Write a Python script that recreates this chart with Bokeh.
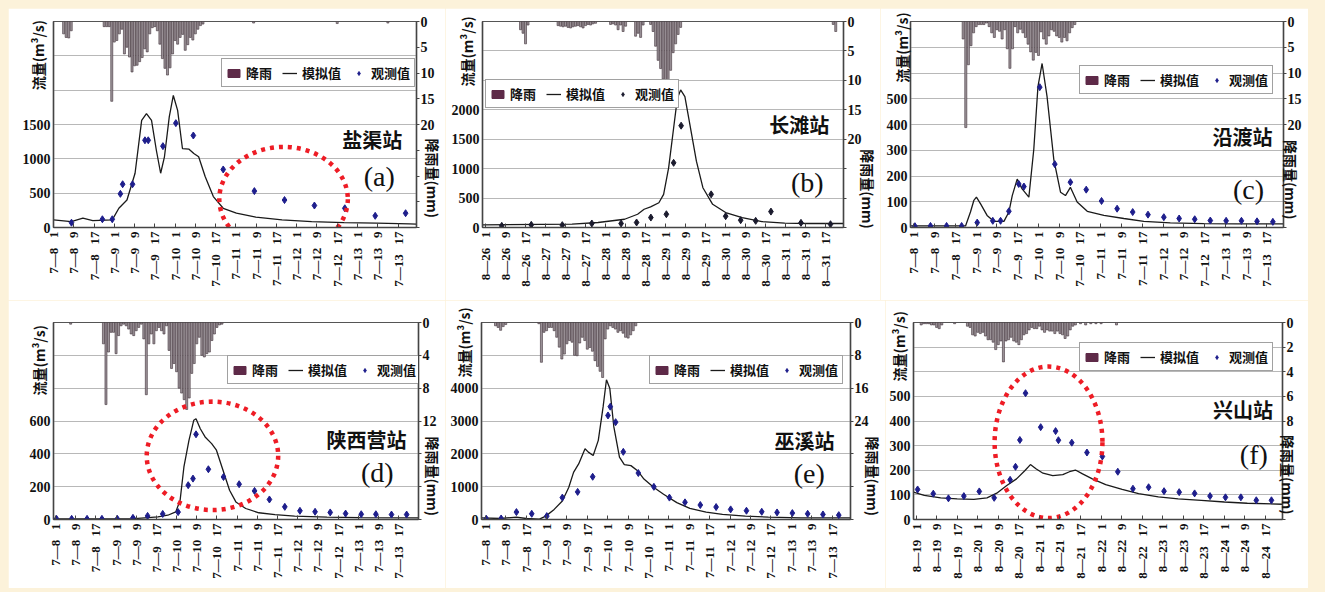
import math
from bokeh.plotting import figure
from bokeh.models import Range1d, LinearAxis, FixedTicker, Legend, LegendItem, Label, ColumnDataSource
from bokeh.layouts import row, column
from bokeh.embed import file_html
from bokeh.resources import INLINE

# ---------------- tick labels (x = hours since first tick) ----------------
tick_hours = [0, 8, 16, 24, 32, 40, 48, 56, 64, 72, 80, 88, 96, 104, 112, 120, 128, 136]
jul_ticks = ["7—8 1", "7—8 9", "7—8 17", "7—9 1", "7—9 9", "7—9 17", "7—10 1", "7—10 9", "7—10 17",
             "7—11 1", "7—11 9", "7—11 17", "7—12 1", "7—12 9", "7—12 17", "7—13 1", "7—13 9", "7—13 17"]
aug26_ticks = ["8—26 1", "8—26 9", "8—26 17", "8—27 1", "8—27 9", "8—27 17", "8—28 1", "8—28 9", "8—28 17",
               "8—29 1", "8—29 9", "8—29 17", "8—30 1", "8—30 9", "8—30 17", "8—31 1", "8—31 9", "8—31 17"]
aug19_ticks = ["8—19 1", "8—19 9", "8—19 17", "8—20 1", "8—20 9", "8—20 17", "8—21 1", "8—21 9", "8—21 17",
               "8—22 1", "8—22 9", "8—22 17", "8—23 1", "8—23 9", "8—23 17", "8—24 1", "8—24 9", "8—24 17"]

# ---------------- (a) 盐渠站 ----------------
a_sim_t = [0, 7, 11.6, 15.5, 23.2, 25.8, 29, 32.2, 34.8, 36.7, 38.7, 40.6, 42.3, 43.8, 45.7, 47.3, 49, 50.9,
           53.5, 55.4, 57.3, 59.9, 63.1, 67, 72.2, 79.9, 90.2, 101.9, 114.7, 127.6, 140.5, 143.3]
a_sim_q = [111, 87, 135, 100, 111, 280, 400, 790, 1560, 1657, 1560, 1125, 790, 1030, 1610, 1923, 1705, 1150,
           1140, 1077, 1030, 740, 450, 280, 208, 150, 111, 87, 72, 63, 53, 50]
a_obs_t = [7.1, 19.3, 23.2, 26.4, 27.3, 31.2, 36.1, 37.4, 43.2, 48.3, 55.2, 67, 79.3, 91.2, 103, 115, 127, 139]
a_obs_q = [70, 120, 120, 490, 630, 630, 1270, 1270, 1185, 1520, 1340, 845, 530, 400, 320, 280, 170, 208]
a_rain_t = [4, 5, 6, 7, 20, 21, 22, 23, 24, 25, 26, 27, 28, 29, 30, 31, 32, 33, 34, 35, 36, 37, 38, 39, 40,
            41, 42, 43, 44, 45, 46, 47, 48, 49, 50, 51, 52, 53, 54, 55, 56, 57, 58, 59, 79, 112, 132]
a_rain_mm = [2.4, 3.1, 3.2, 1.8, 1.0, 1.0, 1.0, 15.5, 4.0, 3.7, 2.4, 1.5, 6.3, 5.0, 6.9, 9.8, 8.6, 8.5, 7.8,
             7.0, 5.3, 5.9, 2.4, 1.2, 1.0, 1.8, 4.4, 7.2, 9.1, 10.4, 9.0, 6.3, 3.7, 4.4, 3.1, 2.5, 5.6, 4.5,
             3.1, 3.6, 2.4, 1.5, 0.8, 0.5, 0.3, 0.4, 0.3]

# ---------------- (b) 长滩站 ----------------
b_sim_t = [-1.2, 34.6, 45, 55.6, 60.8, 63.4, 66, 69.3, 71.2, 73.2, 75.2, 76.7, 78, 79.7, 81.7, 84.3, 86.9,
           90.8, 96, 102.6, 110.5, 119.6, 128.8, 143]
b_sim_q = [45, 56, 85, 140, 225, 310, 350, 420, 563, 1014, 1690, 2197, 2338, 2225, 1746, 1127, 676, 394, 254,
           169, 101, 73, 68, 68]
b_obs_t = [6.5, 18.3, 30.7, 42.5, 54.2, 60.4, 66.1, 72.3, 75.2, 78.2, 90.2, 96, 102, 108, 114.1, 126.1, 137.9]
b_obs_q = [28, 45, 40, 68, 68, 85, 169, 225, 1099, 1730, 563, 192, 124, 113, 270, 79, 56]
b_rain_t = [14, 15, 16, 17, 29, 30, 31, 32, 33, 34, 35, 36, 37, 38, 39, 40, 41, 42, 43, 44, 50, 51, 52, 53,
            54, 55, 56, 60, 61, 62, 63, 66, 67, 68, 69, 70, 71, 72, 73, 74, 75, 76, 77, 78, 139, 140]
b_rain_mm = [1.4, 2.0, 3.8, 0.6, 0.7, 0.8, 0.9, 0.8, 1.0, 1.1, 0.9, 0.8, 0.7, 0.9, 1.1, 0.7, 0.5, 0.6, 0.4,
             0.3, 0.5, 0.4, 0.6, 1.4, 0.6, 1.7, 0.8, 2.5, 2.0, 2.7, 0.6, 0.5, 1.7, 4.2, 6.6, 8.0, 9.8, 13.6,
             10.3, 8.3, 5.3, 3.8, 2.2, 1.0, 0.5, 1.7]

# ---------------- (c) 沿渡站 ----------------
c_sim_t = [-1.3, 19.9, 21.8, 23.1, 24.1, 25.7, 28.2, 30.8, 34.7, 36.6, 37.9, 39.8, 41.7, 44.3, 46.2, 47.8,
           49.4, 51.3, 53.9, 56.5, 58.4, 60.3, 62.9, 66.8, 73.2, 80.9, 88.6, 98.8, 111.7, 124.5, 142.4]
c_sim_q = [6, 6, 60, 105, 118, 92, 47, 24, 24, 60, 124, 188, 150, 118, 304, 547, 637, 509, 265, 137, 124,
           156, 99, 63, 47, 35, 24, 18, 15, 14, 14]
c_obs_t = [0.4, 6.4, 12.6, 18.4, 24.4, 30.4, 33.4, 36.6, 40.4, 42.4, 48.5, 54.3, 60.3, 66.4, 72.3, 78.3,
           84.3, 90.2, 96.3, 102.2, 108.2, 114.2, 120.3, 126.2, 132.2, 138.3]
c_obs_q = [5, 6, 6, 6, 19, 26, 26, 63, 169, 159, 545, 246, 176, 147, 103, 73, 60, 50, 40, 35, 32, 27, 26,
           26, 24, 22]
c_rain_t = [19, 20, 21, 22, 23, 24, 25, 26, 27, 28, 29, 30, 31, 32, 33, 34, 35, 36, 37, 38, 39, 40, 41, 42,
            43, 44, 45, 46, 47, 48, 49, 50, 51, 52, 53, 54, 55, 56, 57, 58, 59, 60, 61, 62]
c_rain_mm = [3.4, 20.6, 8.4, 4.7, 2.2, 1.0, 0.6, 0.6, 0.6, 0.3, 1.0, 2.2, 3.1, 1.6, 1.9, 3.4, 1.6, 5.3, 9.1,
             5.3, 1.0, 2.2, 1.5, 2.2, 3.1, 4.4, 5.9, 7.5, 6.0, 6.6, 2.0, 3.4, 4.4, 2.8, 1.6, 1.9, 2.8, 3.1,
             4.0, 3.1, 3.75, 2.2, 1.2, 0.6]

# ---------------- (d) 陕西营站 ----------------
d_sim_t = [-0.8, 30, 40.6, 44.5, 47.7, 49.4, 50.9, 52.9, 54.8, 55.7, 57.4, 59.3, 61.9, 63.8, 66.4, 69, 71.5,
           75.4, 80.6, 87, 94.8, 107.6, 120.5, 143.9]
d_sim_q = [4, 4, 16, 26, 47, 118, 320, 482, 604, 614, 553, 503, 462, 422, 300, 178, 107, 67, 41, 30, 20, 14,
           12, 10]
d_obs_t = [0.4, 6.4, 12.5, 18.4, 24.5, 30.7, 36.5, 42.5, 48.6, 52.6, 54.5, 55.7, 60.6, 66.6, 72.8, 78.9,
           84.8, 90.9, 96.9, 102.9, 108.9, 115, 121.2, 127, 133.2, 139.2]
d_obs_q = [4, 4, 4, 4, 4, 10, 22, 34, 45, 209, 249, 519, 306, 259, 215, 174, 122, 77, 53, 47, 43, 36, 32,
           32, 30, 30]
d_rain_t = [6, 19, 20, 21, 22, 23, 24, 25, 26, 27, 28, 29, 30, 31, 32, 33, 34, 35, 36, 37, 38, 39, 40, 41,
            42, 43, 44, 45, 46, 47, 48, 49, 50, 51, 52, 53, 54, 55, 56, 57, 58, 59, 60, 61, 62, 63, 64, 65, 66]
d_rain_mm = [0.2, 2.6, 10.0, 3.6, 1.2, 1.2, 3.8, 1.6, 0.4, 0.2, 0.4, 0.8, 1.4, 1.6, 1.0, 0.6, 0.2, 2.0, 8.8,
             2.6, 1.4, 2.6, 1.0, 0.6, 1.0, 1.4, 0.4, 3.4, 5.6, 5.0, 6.0, 8.0, 8.6, 9.4, 10.6, 9.2, 6.2, 5.0,
             2.6, 1.8, 4.0, 4.2, 3.8, 3.6, 2.2, 1.4, 0.6, 0.3, 0.2]

# ---------------- (e) 巫溪站 ----------------
e_sim_t = [-1.5, 5.8, 12.2, 16, 21.2, 23.7, 27, 30.2, 32.7, 34.6, 36.6, 39.1, 40.4, 42.3, 44.3, 46.2, 47.5,
           48.8, 50.4, 52.6, 54.5, 57.1, 59.7, 62.2, 66.1, 69.9, 75.1, 80.2, 86.6, 93, 102, 111, 123.8, 143.2]
e_sim_q = [51, 31, 72, 31, 10, 103, 308, 564, 974, 1436, 1692, 2154, 2051, 1949, 2410, 3436, 4256, 4000,
           2820, 1897, 1672, 1641, 1487, 1231, 974, 769, 513, 338, 226, 154, 103, 72, 51, 51]
e_obs_t = [0.4, 6.2, 12.2, 18.2, 24.1, 30.2, 36.2, 42.1, 48.1, 49, 51.1, 54.1, 60, 66.1, 72.2, 78.3, 84.3,
           90.5, 96.2, 102.4, 108.4, 114.4, 120.4, 126.4, 132.4, 138.6]
e_obs_q = [21, 31, 226, 174, 103, 667, 841, 1302, 3169, 3436, 2964, 2061, 1415, 995, 667, 523, 441, 379, 308,
           267, 236, 215, 195, 174, 154, 133]
e_rain_t = [4, 5, 6, 7, 8, 21, 22, 23, 24, 25, 26, 27, 28, 29, 30, 31, 32, 33, 34, 35, 36, 37, 38, 39, 40,
            41, 42, 43, 44, 45, 46, 47, 48, 49, 50, 51, 52, 53, 54, 55, 56, 57, 58, 59]
e_rain_mm = [0.8, 1.2, 1.9, 1.0, 0.5, 0.3, 9.7, 2.4, 2.0, 1.2, 1.2, 2.0, 3.6, 6.0, 8.9, 7.7, 5.2, 4.4, 4.8,
             8.0, 8.1, 5.0, 3.6, 4.4, 6.5, 6.1, 7.0, 9.3, 10.7, 11.9, 13.4, 4.0, 1.6, 0.8, 1.2, 1.6, 2.4, 2.0,
             2.6, 3.6, 3.8, 3.0, 2.0, 0.8]

# ---------------- (f) 兴山站 ----------------
f_sim_t = [-1, 3.2, 9.6, 16, 22.5, 27.6, 31.4, 35.3, 39.1, 42.3, 44.5, 46.8, 49.4, 53.2, 57.1, 59.7, 62,
           64.8, 68.6, 73.8, 80.2, 86.6, 94.3, 102, 111, 120, 128.9, 142.6]
f_sim_q = [111, 98, 88, 84, 82, 88, 107, 138, 165, 198, 223, 205, 188, 178, 182, 194, 201, 185, 165, 142,
           122, 105, 92, 84, 78, 71, 66, 62]
f_obs_t = [0.6, 6.7, 12.6, 18.6, 24.6, 30.4, 36.6, 38.7, 40.4, 42.6, 48.5, 54.3, 55.4, 60.6, 66.5, 72.5,
           78.5, 84.4, 90.5, 96.5, 102.4, 108.4, 114.4, 120.4, 126.4, 132.4, 138.3]
f_obs_q = [122, 105, 86, 95, 114, 88, 161, 214, 323, 513, 375, 359, 322, 312, 272, 256, 194, 125, 131, 115,
           111, 106, 95, 90, 90, 78, 78]
f_rain_t = [2, 3, 4, 5, 6, 7, 8, 9, 10, 15, 20, 21, 22, 23, 24, 25, 26, 27, 28, 29, 30, 31, 32, 33, 34, 35,
            36, 37, 38, 39, 40, 41, 42, 43, 44, 45, 46, 47, 48, 49, 50, 51, 52, 53, 54, 55, 56, 57, 58, 59,
            60, 61, 62, 64, 66, 68, 70, 72, 78]
f_rain_mm = [0.2, 0.1, 0.1, 0.1, 0.2, 0.2, 0.4, 0.5, 0.2, 0.1, 0.3, 0.4, 1.0, 1.1, 0.8, 0.9, 0.8, 1.1, 1.4,
             1.4, 1.6, 2.2, 1.8, 1.5, 3.2, 1.5, 1.4, 1.2, 1.5, 1.6, 1.8, 1.4, 1.0, 0.9, 0.6, 0.4, 0.5, 0.5,
             0.3, 0.6, 0.8, 0.6, 0.7, 0.7, 0.9, 0.7, 0.9, 1.0, 1.3, 1.1, 0.6, 0.3, 0.2, 0.1, 0.2, 0.1, 0.1,
             0.1, 0.2]

# ---------------- styling / layout ----------------
PAGE_BG = "#fcf2da"
BAR_FILL = "#9d959a"
BAR_LINE = "#3e2f38"
SWATCH = "#5e2a48"
OBS_COLOR = "#1e1e8c"
CJK = "Noto Sans CJK SC"
SERIF = "Liberation Serif"
NBSP3 = "\u00a0\u00a0\u00a0"
LEG_H = 26
LEFT_TITLE = "流量(m³/s)"
RIGHT_TITLE = "降雨量(mm)"


def padded(text, pad_px):
    # the axis title is centred on its axis; leading blank space shifts the visible
    # characters towards the top (left axis) or bottom (right axis), as in the reference
    n_id = int(pad_px // 14)
    rem = pad_px - 14 * n_id
    return "\u3000" * n_id + "\u00a0" * int(round(rem / 3.1)) + text


def make_panel(origin, size, borders, xr, left, right, xlabels, sim_t, sim_q, obs_t, obs_q, rain_t, rain_mm,
               name, tag, pos, obs_color=OBS_COLOR, ellipse=None, margin=(0, 0, 0, 0)):
    W, H = size
    bl, br, bt, bb = borders
    x0, x1 = xr
    ymax, ystep, ylab = left
    rmax, rstep, rlab = right
    fw = W - bl - br
    fh = H - bt - bb
    ox, oy = origin

    def dx(px):  # page px -> data x
        return x0 + (px - ox - bl) / fw * (x1 - x0)

    def dy(py):  # page px -> data y (left axis)
        return ymax * (bt + fh - (py - oy)) / fh

    p = figure(width=W, height=H, x_range=Range1d(x0, x1), y_range=Range1d(0, ymax),
               output_backend="svg", toolbar_location=None,
               min_border_left=bl, min_border_right=br, min_border_top=bt, min_border_bottom=bb,
               background_fill_color="white", border_fill_color="white",
               outline_line_color="#555555", outline_line_width=1.2, margin=margin)
    p.extra_y_ranges = {"rain": Range1d(rmax, 0)}

    # axes
    yt = list(range(0, ymax + 1, ystep))
    p.yaxis.ticker = FixedTicker(ticks=yt)
    p.yaxis.major_label_overrides = {t: (str(t) if t <= ylab else "") for t in yt}
    p.xaxis.ticker = FixedTicker(ticks=tick_hours)
    p.xaxis.major_label_overrides = {h: s.replace(" ", NBSP3) for h, s in zip(tick_hours, xlabels)}
    p.xaxis.major_label_orientation = math.pi / 2
    for ax in (p.xaxis, p.yaxis):
        ax.axis_line_color = "#444444"
        ax.axis_line_width = 1.5
        ax.major_tick_line_color = "#444444"
        ax.minor_tick_line_color = None
        ax.major_label_text_font = SERIF
        ax.major_label_text_font_style = "bold"
        ax.major_label_text_color = "#111111"
    p.xaxis.major_tick_in = 4
    p.xaxis.major_tick_out = 0
    p.xaxis.major_label_standoff = 4
    p.xaxis.major_label_text_font_size = "13px"
    p.yaxis.major_tick_in = 0
    p.yaxis.major_tick_out = 0
    p.yaxis.major_label_standoff = 3
    p.yaxis.major_label_text_font_size = "14px"

    # left axis title, placed over the empty upper part of the tick-label column
    w_tl = 7 * len(str(ylab))
    yax = p.yaxis[0]
    yax.axis_label = padded(LEFT_TITLE, pos["lpad"])
    yax.axis_label_text_font = CJK
    yax.axis_label_text_font_style = "bold"
    yax.axis_label_text_font_size = "14px"
    yax.axis_label_text_color = "#111111"
    yax.axis_label_standoff = int(round(pos.get("lstand", -0.5) - w_tl))

    rt = list(range(0, rmax + 1, rstep))
    ra = LinearAxis(y_range_name="rain", ticker=FixedTicker(ticks=rt),
                    major_label_overrides={t: (str(t) if t <= rlab else "") for t in rt},
                    axis_line_color="#444444", axis_line_width=1.5, major_tick_line_color="#444444",
                    major_tick_in=0, major_tick_out=3, minor_tick_line_color=None, major_label_standoff=1,
                    major_label_text_font=SERIF, major_label_text_font_style="bold",
                    major_label_text_font_size="14px", major_label_text_color="#111111",
                    axis_label=padded(RIGHT_TITLE, pos["rpad"]), axis_label_text_font=CJK,
                    axis_label_text_font_style="bold",
                    axis_label_text_font_size="14px", axis_label_text_color="#111111",
                    axis_label_standoff=pos.get("rstand", -17))
    p.add_layout(ra, "right")

    p.xgrid.grid_line_color = None
    p.ygrid.grid_line_color = "#b8b8b8"
    p.ygrid.grid_line_width = 1

    # rain bars (hanging from top)
    rsrc = ColumnDataSource(dict(t=rain_t, mm=rain_mm))
    p.vbar(x="t", bottom=0, top="mm", width=0.8, source=rsrc, y_range_name="rain",
           fill_color=BAR_FILL, line_color=BAR_LINE, line_width=0.6)
    # legend proxy (zero-height, outside the visible range)
    r_leg = p.vbar(x=[x0 - 50], bottom=[0], top=[0], width=1, y_range_name="rain",
                   fill_color=SWATCH, line_color=SWATCH)

    r_line = p.line(sim_t, sim_q, line_color="#1a1a1a", line_width=1.3)
    r_obs = p.scatter(obs_t, obs_q, marker="diamond", size=7, fill_color=obs_color, line_color=obs_color)

    if ellipse is not None:
        (cx, cy), (ew, eh) = ellipse
        p.ellipse(x=[dx(cx)], y=[dy(cy)], width=[ew / fw * (x1 - x0)], height=[eh / fh * ymax],
                  fill_alpha=0, line_color="#ee1c25", line_width=4.5, line_dash="4 5")

    # legend
    lx, ly = pos["legend"]
    leg = Legend(items=[LegendItem(label="降雨", renderers=[r_leg]),
                        LegendItem(label="模拟值", renderers=[r_line]),
                        LegendItem(label="观测值", renderers=[r_obs])],
                 orientation="horizontal",
                 location=(lx - ox - bl, (oy + bt + fh) - (ly + LEG_H)),
                 label_text_font=CJK, label_text_font_style="bold", label_text_font_size="13px",
                 label_text_color="#111111", glyph_width=15, glyph_height=10, label_standoff=5,
                 spacing=10, padding=4, margin=0, border_line_color="#444444", border_line_width=1.5,
                 background_fill_color="white", background_fill_alpha=1.0, label_height=16)
    p.add_layout(leg)

    # station name and tag
    nx, ny = pos["name"]
    p.add_layout(Label(x=dx(nx), y=dy(ny), text=name, text_align="center", text_baseline="middle",
                       text_font=CJK, text_font_style="bold", text_font_size="20px", text_color="#111111"))
    tx, ty = pos["tag"]
    p.add_layout(Label(x=dx(tx), y=dy(ty), text=tag, text_align="center", text_baseline="middle",
                       text_font=SERIF, text_font_size="28px", text_color="#111111"))
    return p


pa = make_panel((8, 8), (437, 292), (45, 22, 13, 72), (0, 143.3), (3000, 500, 1500), (40, 5, 20), jul_ticks,
                a_sim_t, a_sim_q, a_obs_t, a_obs_q, a_rain_t, a_rain_mm, "盐渠站", "(a)",
                {"name": (378, 140), "tag": (385, 177), "legend": (221, 62), "rstand": -15, "lstand": -0.5,
                 "lpad": 139, "rpad": 108},
                ellipse=((287.5, 199.5), (131, 105)), margin=(8, 0, 0, 8))
pb = make_panel((445, 8), (435, 292), (37, 30, 12, 73), (-1.2, 143.1), (3500, 500, 2000), (35, 5, 20),
                aug26_ticks, b_sim_t, b_sim_q, b_obs_t, b_obs_q, b_rain_t, b_rain_mm, "长滩站", "(b)",
                {"name": (805, 123), "tag": (813, 182), "legend": (485, 82), "rstand": -7, "lstand": 0.5,
                 "lpad": 147, "rpad": 130},
                obs_color="#1b1b2e", margin=(8, 0, 0, 0))
pc = make_panel((880, 8), (428, 292), (30, 25, 7, 73), (-1.3, 142.4), (800, 100, 500), (40, 5, 20), jul_ticks,
                c_sim_t, c_sim_q, c_obs_t, c_obs_q, c_rain_t, c_rain_mm, "沿渡站", "(c)",
                {"name": (1242, 133), "tag": (1248, 188), "legend": (1079, 68), "rstand": -24, "lstand": -7.5,
                 "lpad": 154, "rpad": 109},
                margin=(8, 0, 0, 0))
pd_ = make_panel((8, 300), (437, 288), (45, 20, 22, 68), (-0.8, 143.9), (1200, 200, 600), (24, 4, 12),
                 jul_ticks, d_sim_t, d_sim_q, d_obs_t, d_obs_q, d_rain_t, d_rain_mm, "陕西营站", "(d)",
                 {"name": (372, 440), "tag": (383, 473), "legend": (227, 359), "rstand": -17, "lstand": -0.5,
                  "lpad": 122, "rpad": 109},
                 ellipse=((215, 456), (134, 109)), margin=(0, 0, 0, 8))
pe = make_panel((445, 300), (440, 288), (36, 28, 22, 69), (-1.5, 143.2), (6000, 1000, 4000), (48, 8, 24),
                jul_ticks, e_sim_t, e_sim_q, e_obs_t, e_obs_q, e_rain_t, e_rain_mm, "巫溪站", "(e)",
                {"name": (810, 440), "tag": (815, 473), "legend": (649, 358), "rstand": -9, "lstand": 1.5,
                 "lpad": 157, "rpad": 110})
pf = make_panel((885, 300), (423, 288), (24, 26, 22, 67), (-1.0, 142.6), (800, 100, 500), (16, 2, 8),
                aug19_ticks, f_sim_t, f_sim_q, f_obs_t, f_obs_q, f_rain_t, f_rain_mm, "兴山站", "(f)",
                {"name": (1242, 410), "tag": (1253, 455), "legend": (1075, 347), "rstand": -19, "lstand": -1.5,
                 "lpad": 149, "rpad": 108},
                ellipse=((1045.5, 443), (109, 153)))

layout = column(row(pa, pb, pc, spacing=0), row(pd_, pe, pf, spacing=0), spacing=0,
                width=1325, height=592, styles={"background-color": PAGE_BG})

open("out.html", "w").write(file_html(layout, INLINE))
